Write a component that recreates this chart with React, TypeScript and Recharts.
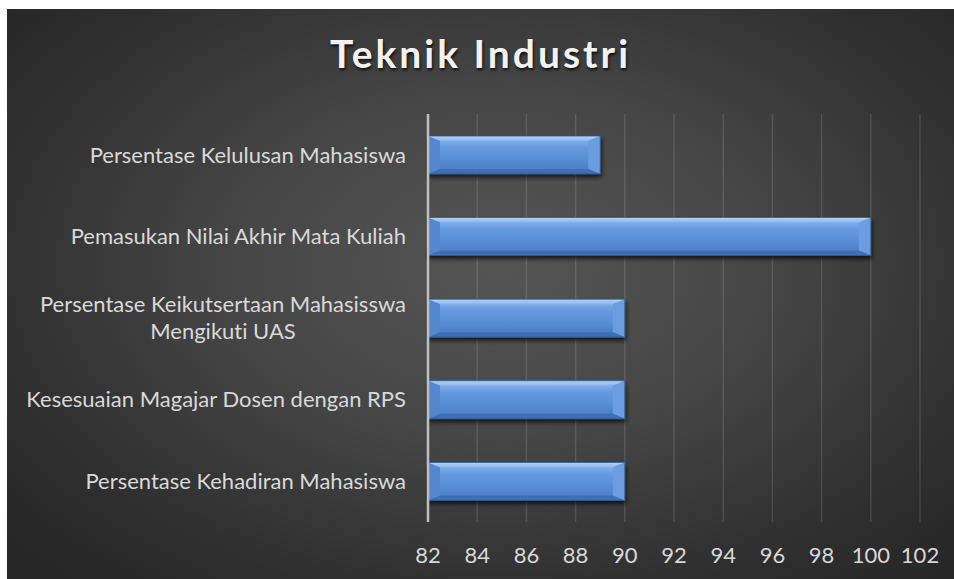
import { Bar, BarChart, CartesianGrid, XAxis, YAxis } from "recharts"

const categories = [
  "Persentase Kelulusan Mahasiswa",
  "Pemasukan Nilai Akhir Mata Kuliah",
  "Persentase Keikutsertaan Mahasisswa Mengikuti UAS",
  "Kesesuaian Magajar Dosen dengan RPS",
  "Persentase Kehadiran Mahasiswa",
]
const values = [89, 100, 90, 90, 90]
const xTicks = [82, 84, 86, 88, 90, 92, 94, 96, 98, 100, 102]

const data = categories.map((name, i) => ({ name, value: values[i] }))

const FONT = "Lato, 'Liberation Sans', sans-serif"
const LABEL_SIZE = 22
const noLig = { fontVariantLigatures: "none" as const }

function textWidth(s: string) {
  const ctx = document.createElement("canvas").getContext("2d")
  if (!ctx) return s.length * 10
  ctx.font = `${LABEL_SIZE}px ${FONT}`
  return ctx.measureText(s).width
}

function wrap(s: string, max = 40) {
  const words = s.split(" ")
  const lines: string[] = []
  let cur = ""
  for (const w of words) {
    const next = cur ? cur + " " + w : w
    if (next.length > max && cur) {
      lines.push(cur)
      cur = w
    } else cur = next
  }
  if (cur) lines.push(cur)
  return lines
}

function CategoryTick(props: any) {
  const { x, y, payload } = props
  const lines = wrap(payload.value)
  const w = textWidth(lines[0])
  const mid = x - w / 2
  const lh = 27
  const start = y - ((lines.length - 1) * lh) / 2
  return (
    <g>
      {lines.map((l, i) => (
        <text
          key={i}
          x={i === 0 ? x : mid}
          y={start + i * lh}
          dy="0.35em"
          textAnchor={i === 0 ? "end" : "middle"}
          fill="#d9d9d9"
          fontSize={LABEL_SIZE}
          fontFamily={FONT}
          style={noLig}
        >
          {l}
        </text>
      ))}
    </g>
  )
}

function BevelBar(props: any) {
  const { x, y, width: w, height: h } = props
  if (!w || w <= 0) return null
  const b = Math.min(12, w / 2)
  const t = 5
  return (
    <g filter="url(#barShadow)">
      <rect x={x} y={y} width={w} height={h} fill="url(#barGrad)" />
      <polygon points={`${x},${y} ${x + w},${y} ${x + w - b},${y + t} ${x + b},${y + t}`} fill="url(#topGrad)" />
      <polygon points={`${x},${y} ${x + b},${y + t} ${x + b},${y + h - t} ${x},${y + h}`} fill="#5687cc" />
      <polygon points={`${x + w},${y} ${x + w},${y + h} ${x + w - b},${y + h - t} ${x + w - b},${y + t}`} fill="#6c9de0" />
      <polygon points={`${x},${y + h} ${x + b},${y + h - t} ${x + w - b},${y + h - t} ${x + w},${y + h}`} fill="#3f6eb3" />
      <rect x={x} y={y} width={w} height={h} fill="none" stroke="#2f5690" strokeWidth={0.8} />
    </g>
  )
}

export default function App() {
  return (
    <div
      style={{
        position: "absolute",
        left: 7,
        top: 9,
        width: 947,
        height: 570,
        background: "radial-gradient(ellipse 70% 75% at 52% 45%, #555555 0%, #464646 40%, #2e2e2e 80%, #262626 100%)",
        fontFamily: FONT,
      }}
    >
      <div
        style={{
          position: "absolute",
          left: 0,
          width: 947,
          top: 21,
          textAlign: "center",
          color: "#f2f2f2",
          fontWeight: 700,
          fontSize: 39,
          letterSpacing: 3,
          textShadow: "1px 2px 3px rgba(0,0,0,0.8)",
        }}
      >
        Teknik Industri
      </div>
      <BarChart
        layout="vertical"
        width={947}
        height={570}
        data={data}
        margin={{ top: 105, right: 34, bottom: 27, left: 0 }}
        barSize={38}
      >
        <defs>
          <linearGradient id="barGrad" x1="0" y1="0" x2="0" y2="1">
            <stop offset="0%" stopColor="#8fbaf0" />
            <stop offset="30%" stopColor="#669ae0" />
            <stop offset="70%" stopColor="#5589d2" />
            <stop offset="100%" stopColor="#4878c2" />
          </linearGradient>
          <linearGradient id="topGrad" x1="0" y1="0" x2="0" y2="1">
            <stop offset="0%" stopColor="#b5d4f7" />
            <stop offset="100%" stopColor="#8ab6ee" />
          </linearGradient>
          <filter id="barShadow" x="-5%" y="-20%" width="110%" height="160%">
            <feDropShadow dx="1" dy="3" stdDeviation="2" floodColor="#000" floodOpacity="0.7" />
          </filter>
        </defs>
        <CartesianGrid horizontal={false} stroke="#ffffff" strokeOpacity={0.12} strokeWidth={1.5} />
        <XAxis
          type="number"
          domain={[82, 102]}
          ticks={xTicks}
          axisLine={false}
          tickLine={false}
          tickMargin={19}
          height={30}
          tick={{ fill: "#d9d9d9", fontSize: LABEL_SIZE, fontFamily: FONT }}
        />
        <YAxis
          type="category"
          dataKey="name"
          width={421}
          axisLine={{ stroke: "#bfbfbf", strokeWidth: 2.5 }}
          tickLine={false}
          tickSize={0}
          tickMargin={22}
          tick={<CategoryTick />}
          interval={0}
        />
        <Bar dataKey="value" shape={<BevelBar />} isAnimationActive={false} />
      </BarChart>
    </div>
  )
}
